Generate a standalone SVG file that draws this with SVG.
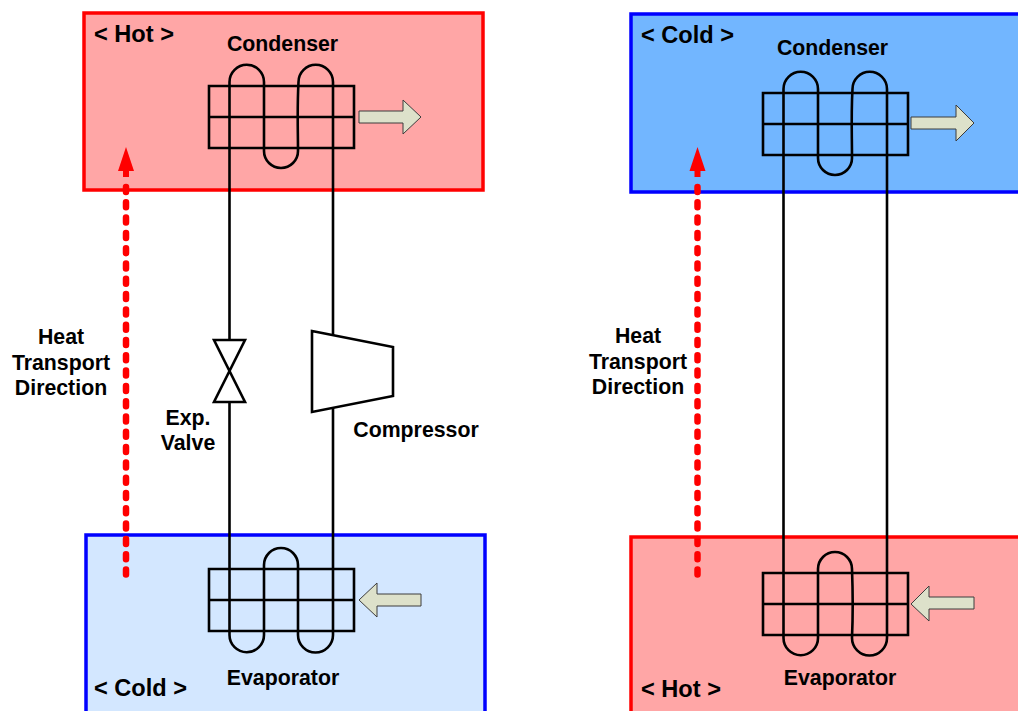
<svg xmlns="http://www.w3.org/2000/svg" width="1018" height="711" viewBox="0 0 1018 711">
<defs>
<style>
text{font-family:"Liberation Sans",Arial,sans-serif;font-weight:700;font-size:21.3px;fill:#000}
.t{font-size:23.6px}
.m{text-anchor:middle}
.zh{fill:#FFA6A6;stroke:#FF0000;stroke-width:3.5}
.zc{stroke:#0000FF;stroke-width:3.5}
.hx{fill:none;stroke:#000;stroke-width:2.6}
.pipe{fill:none;stroke:#000;stroke-width:2.6}
.eq{fill:#fff;stroke:#000;stroke-width:2.6;stroke-linejoin:miter}
.flow{fill:#DDE1CA;stroke:#3c3c3c;stroke-width:1}
.dash{fill:none;stroke:#FF0000;stroke-width:6.5;stroke-linecap:round;stroke-dasharray:5 10.3}
.tip{fill:#FF0000}
</style>
</defs>

<g id="zone-hot-left"><rect class="zh" x="84" y="13" width="399" height="177"/><text class="t" x="94" y="42">&lt; Hot &gt;</text></g>
<g id="zone-cold-left"><rect class="zc" fill="#D3E7FF" x="86" y="535" width="399" height="200"/><text class="t" x="94" y="696">&lt; Cold &gt;</text></g>
<g id="zone-cold-right"><rect class="zc" fill="#72B6FF" x="631" y="14" width="420" height="178"/><text class="t" x="641" y="43">&lt; Cold &gt;</text></g>
<g id="zone-hot-right"><rect class="zh" x="631" y="537" width="420" height="200"/><text class="t" x="641" y="697">&lt; Hot &gt;</text></g>

<g id="connectors">
<path class="pipe" d="M229.500 340V82A17.250 17.250 0 0 1 264 82V151A17 17 0 0 0 298 151C298 130 297 110 298.500 82A17.250 17.250 0 0 1 333 82V336"/>
<path class="pipe" d="M229.500 402V635A17.250 17.250 0 0 0 264 635V565A17 17 0 0 1 298 565V635A17.500 17.500 0 0 0 333 635V408"/>
<path class="pipe" d="M783.500 192V89A17.250 17.250 0 0 1 818 89V158A17 17 0 0 0 852 158C852 135 851 115 852.500 89A17.250 17.250 0 0 1 887 89V192"/>
<path class="pipe" d="M783.500 192V638A17.250 17.250 0 0 0 818 638V569A17 17 0 0 1 852 569C853 595 853 615 852 638A17.500 17.500 0 0 0 887 638V192"/>
<path class="dash" d="M126 187V575"/>
<path class="tip" d="M126 147L134 171H129V177H123V171H118Z"/>
<path class="dash" d="M697.500 187V575"/>
<path class="tip" d="M697.500 147L705.500 171H700.500V177H694.500V171H689.500Z"/>
<path class="flow" d="M359 111H403V100L421 117L403 134V123H359Z"/>
<path class="flow" d="M359 600L377 583V594H421V606H377V617Z"/>
<path class="flow" d="M911 117H956V105L974 123L956 141V129H911Z"/>
<path class="flow" d="M911 604L929 586V597H974V609H929V621Z"/>
</g>

<g id="condenser-left"><path class="hx" d="M209 86H354V148H209ZM209 117H354"/><text x="282.500" y="51" class="m">Condenser</text></g>
<g id="evaporator-left"><path class="hx" d="M209 569H354V631H209ZM209 600H354"/><text x="283" y="685" class="m">Evaporator</text></g>
<g id="condenser-right"><path class="hx" d="M763 93H908V155H763ZM763 124H908"/><text x="832.500" y="55" class="m">Condenser</text></g>
<g id="evaporator-right"><path class="hx" d="M763 573H908V635H763ZM763 604H908"/><text x="840" y="685" class="m">Evaporator</text></g>

<g id="expansion-valve"><path class="eq" d="M214 340H245L214 402H245Z"/><text x="188" y="425" class="m">Exp.</text><text x="188" y="450" class="m">Valve</text></g>
<g id="compressor"><path class="eq" d="M312 331L393 347V396L312 412Z"/><text x="416" y="437" class="m">Compressor</text></g>

<g id="label-left"><text x="61" y="344" class="m">Heat</text><text x="61" y="370" class="m">Transport</text><text x="61" y="395" class="m">Direction</text></g>
<g id="label-right"><text x="638" y="343" class="m">Heat</text><text x="638" y="369" class="m">Transport</text><text x="638" y="394" class="m">Direction</text></g>
</svg>
